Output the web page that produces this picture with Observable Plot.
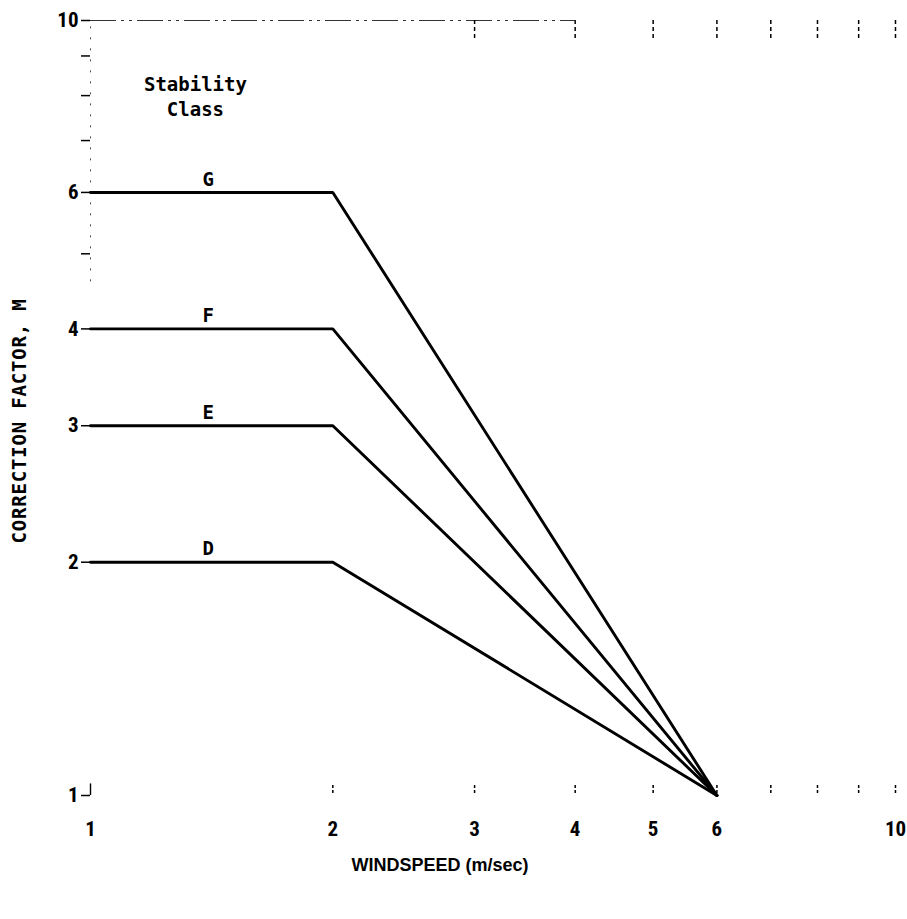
<!DOCTYPE html>
<html>
<head>
<meta charset="utf-8">
<script src="https://cdn.jsdelivr.net/npm/d3@7"></script>
<script src="https://cdn.jsdelivr.net/npm/@observablehq/plot@0.6"></script>
<style>
  html, body { margin: 0; padding: 0; background: #fff; }
  #chart { width: 907px; height: 919px; }
</style>
</head>
<body>
<div id="chart"></div>
<script>
// Windspeed (m/sec) break points
const windspeed = [1, 2, 6];
// Stability classes and their correction factor M at each windspeed break point
const classes = ["D", "E", "F", "G"];
const mD = [2, 2, 1];
const mE = [3, 3, 1];
const mF = [4, 4, 1];
const mG = [6, 6, 1];
// Tick values / labels
const xTickLabels = [1, 2, 3, 4, 5, 6, 10];
const xBottomTicks = [2, 3, 4, 5, 6, 7, 8, 9, 10];
const xTopTicks = [3, 4, 5, 6, 7, 8, 9, 10];
const yTicks = [1, 2, 3, 4, 5, 6, 7, 8, 9, 10];
const yTickLabels = [1, 2, 3, 4, 6, 10];
// Label anchor for class letters and legend title
const classLabelX = 1.40;
const legendTitle = "Stability\nClass";
const legendPos = {x: 1.35, y: 8.0};

const seriesValues = [mD, mE, mF, mG];
const lines = [];
classes.forEach((c, i) => {
  windspeed.forEach((w, j) => lines.push({cls: c, x: w, y: seriesValues[i][j]}));
});
const letters = classes.map((c, i) => ({cls: c, x: classLabelX, y: seriesValues[i][0]}));

const numFont = "'Roboto Condensed', 'Liberation Sans Narrow', 'DejaVu Sans Condensed', 'Liberation Sans', sans-serif";
const monoFont = "'DejaVu Sans Mono', monospace";

const chart = Plot.plot({
  width: 907,
  height: 919,
  marginLeft: 90,
  marginRight: 12,
  marginTop: 20,
  marginBottom: 124,
  style: {background: "#fff", color: "#000"},
  x: {type: "log", domain: [1, 10]},
  y: {type: "log", domain: [1, 10]},
  marks: [
    // faint top border
    Plot.ruleY([10], {x1: 1, x2: 4, stroke: "#000", strokeWidth: 1.2, strokeDasharray: "26,5,3,5,3,5", strokeOpacity: 0.8}),
    // faint left border
    Plot.ruleX([1], {y1: 4.6, y2: 10, stroke: "#000", strokeWidth: 1, strokeDasharray: "2,9", strokeOpacity: 0.7}),
    // top ticks hanging down
    Plot.ruleX(xTopTicks, {x: d => d, insetBottom: 757, stroke: "#000", strokeWidth: 1.5, strokeDasharray: "4,3"}),
    // bottom ticks pointing up
    Plot.ruleX(xBottomTicks, {x: d => d, insetTop: 765, stroke: "#000", strokeWidth: 1.5, strokeDasharray: "3,2"}),
    // left vertical tick at 1
    Plot.ruleX([1], {y1: 1, y2: 1.035, stroke: "#000", strokeWidth: 1.4}),
    Plot.axisY({
      ticks: yTicks,
      tickSize: 9,
      tickPadding: 3,
      tickFormat: d => yTickLabels.includes(d) ? String(d) : "",
      fontSize: 21,
      fontWeight: "bold",
      fontFamily: numFont,
      strokeWidth: 1.5,
      label: null
    }),
    Plot.axisX({
      ticks: xTickLabels,
      tickSize: 0,
      tickPadding: 26,
      tickFormat: d => String(d),
      fontSize: 21,
      fontWeight: "bold",
      fontFamily: numFont,
      label: null
    }),
    Plot.line(lines, {x: "x", y: "y", z: "cls", stroke: "#000", strokeWidth: 2.9, strokeLinejoin: "miter"}),
    Plot.text(letters, {x: "x", y: "y", text: "cls", dy: -13, fontSize: 19, fontWeight: "bold", fontFamily: monoFont}),
    Plot.text([legendTitle], {x: legendPos.x, y: legendPos.y, text: d => d, fontSize: 19, fontWeight: "bold", fontFamily: monoFont, lineHeight: 1.3})
  ]
});

const svg = d3.select(chart);
// y-axis title
svg.append("text")
  .attr("transform", "translate(26,421) rotate(-90)")
  .attr("text-anchor", "middle")
  .attr("font-family", "'DejaVu Sans Mono', monospace")
  .attr("font-weight", "bold")
  .attr("font-size", 19)
  .attr("letter-spacing", 0.8)
  .attr("fill", "#000")
  .text("CORRECTION FACTOR, M");
// x-axis title
svg.append("text")
  .attr("x", 440)
  .attr("y", 871)
  .attr("text-anchor", "middle")
  .attr("font-family", "'Liberation Sans', Arial, sans-serif")
  .attr("font-weight", "bold")
  .attr("font-size", 18)
  .attr("fill", "#000")
  .text("WINDSPEED (m/sec)");

document.getElementById("chart").appendChild(chart);
</script>
</body>
</html>
